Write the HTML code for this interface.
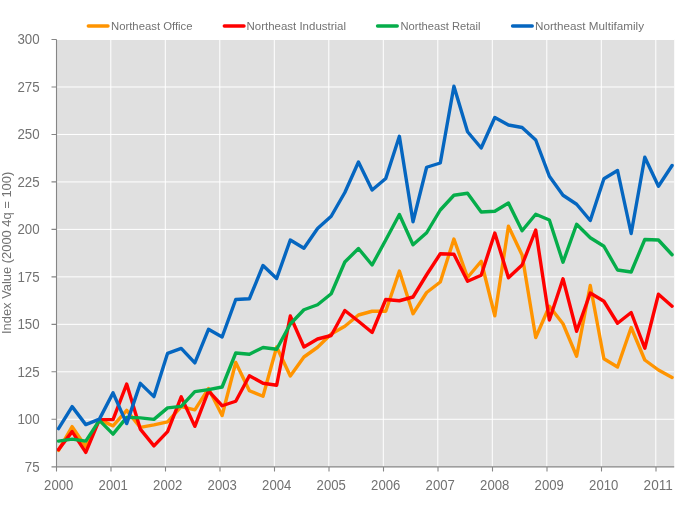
<!DOCTYPE html>
<html><head><meta charset="utf-8"><title>Northeast Index</title>
<style>
html,body{margin:0;padding:0;background:#fff;}
body{width:700px;height:506px;overflow:hidden;font-family:"Liberation Sans",sans-serif;}
svg{display:block;will-change:transform;}
text{font-family:"Liberation Sans",sans-serif;fill:#727272;}
.ax{font-size:13.8px;}
.lg{font-size:11.4px;}
.ln{fill:none;stroke-width:3.4;stroke-linejoin:round;stroke-linecap:round;}
</style></head><body>
<svg width="700" height="506" viewBox="0 0 700 506">
<rect x="0" y="0" width="700" height="506" fill="#ffffff"/>
<rect x="56.5" y="39.5" width="617.70" height="427.25" fill="#e0e0e0"/>
<path d="M56.5,39.50H674.2M56.5,86.97H674.2M56.5,134.44H674.2M56.5,181.92H674.2M56.5,229.39H674.2M56.5,276.86H674.2M56.5,324.33H674.2M56.5,371.81H674.2M56.5,419.28H674.2M110.80,39.5V466.75M165.30,39.5V466.75M219.80,39.5V466.75M274.30,39.5V466.75M328.80,39.5V466.75M383.30,39.5V466.75M437.80,39.5V466.75M492.30,39.5V466.75M546.80,39.5V466.75M601.30,39.5V466.75M655.80,39.5V466.75" stroke="#ffffff" stroke-width="1" fill="none"/>
<path d="M56.5,39.5V466.9M51.5,466.9H674.2M51.5,39.50H56.5M51.5,86.97H56.5M51.5,134.44H56.5M51.5,181.92H56.5M51.5,229.39H56.5M51.5,276.86H56.5M51.5,324.33H56.5M51.5,371.81H56.5M51.5,419.28H56.5M56.50,466.9V471.5M111.00,466.9V471.5M165.50,466.9V471.5M220.00,466.9V471.5M274.50,466.9V471.5M329.00,466.9V471.5M383.50,466.9V471.5M438.00,466.9V471.5M492.50,466.9V471.5M547.00,466.9V471.5M601.50,466.9V471.5M656.00,466.9V471.5" stroke="#868686" stroke-width="1.1" fill="none"/>
<text class="ax" x="17.40" y="44.35" textLength="22.20" lengthAdjust="spacingAndGlyphs">300</text>
<text class="ax" x="17.40" y="91.82" textLength="22.20" lengthAdjust="spacingAndGlyphs">275</text>
<text class="ax" x="17.40" y="139.29" textLength="22.20" lengthAdjust="spacingAndGlyphs">250</text>
<text class="ax" x="17.40" y="186.77" textLength="22.20" lengthAdjust="spacingAndGlyphs">225</text>
<text class="ax" x="17.40" y="234.24" textLength="22.20" lengthAdjust="spacingAndGlyphs">200</text>
<text class="ax" x="17.40" y="281.71" textLength="22.20" lengthAdjust="spacingAndGlyphs">175</text>
<text class="ax" x="17.40" y="329.18" textLength="22.20" lengthAdjust="spacingAndGlyphs">150</text>
<text class="ax" x="17.40" y="376.66" textLength="22.20" lengthAdjust="spacingAndGlyphs">125</text>
<text class="ax" x="17.40" y="424.13" textLength="22.20" lengthAdjust="spacingAndGlyphs">100</text>
<text class="ax" x="24.80" y="471.60" textLength="14.80" lengthAdjust="spacingAndGlyphs">75</text>
<text class="ax" x="44.10" y="490.0" textLength="29.20" lengthAdjust="spacingAndGlyphs">2000</text>
<text class="ax" x="98.60" y="490.0" textLength="29.20" lengthAdjust="spacingAndGlyphs">2001</text>
<text class="ax" x="153.10" y="490.0" textLength="29.20" lengthAdjust="spacingAndGlyphs">2002</text>
<text class="ax" x="207.60" y="490.0" textLength="29.20" lengthAdjust="spacingAndGlyphs">2003</text>
<text class="ax" x="262.10" y="490.0" textLength="29.20" lengthAdjust="spacingAndGlyphs">2004</text>
<text class="ax" x="316.60" y="490.0" textLength="29.20" lengthAdjust="spacingAndGlyphs">2005</text>
<text class="ax" x="371.10" y="490.0" textLength="29.20" lengthAdjust="spacingAndGlyphs">2006</text>
<text class="ax" x="425.60" y="490.0" textLength="29.20" lengthAdjust="spacingAndGlyphs">2007</text>
<text class="ax" x="480.10" y="490.0" textLength="29.20" lengthAdjust="spacingAndGlyphs">2008</text>
<text class="ax" x="534.60" y="490.0" textLength="29.20" lengthAdjust="spacingAndGlyphs">2009</text>
<text class="ax" x="589.10" y="490.0" textLength="29.20" lengthAdjust="spacingAndGlyphs">2010</text>
<text class="ax" x="643.60" y="490.0" textLength="29.20" lengthAdjust="spacingAndGlyphs">2011</text>
<text class="ax" transform="translate(11.1,334.0) rotate(-90)" textLength="162.2" lengthAdjust="spacingAndGlyphs" style="font-size:12px">Index Value (2000 4q = 100)</text>
<clipPath id="pc"><rect x="57.1" y="39" width="618" height="428"/></clipPath><g clip-path="url(#pc)">
<polyline class="ln" stroke="#ff9400" points="58.50,450.35 72.14,426.60 85.77,446.60 99.41,419.60 113.04,425.85 126.67,410.35 140.31,427.35 153.94,424.85 167.58,421.85 181.22,406.60 194.85,409.85 208.48,388.60 222.12,415.50 235.75,362.50 249.39,390.75 263.02,396.25 276.66,347.00 290.29,376.00 303.93,357.00 317.56,347.25 331.20,334.00 344.83,326.25 358.47,315.00 372.11,311.25 385.74,311.25 399.38,271.00 413.01,313.75 426.64,292.50 440.28,282.00 453.92,239.00 467.55,277.50 481.19,261.25 494.82,315.75 508.45,226.25 522.09,255.00 535.72,337.50 549.36,306.25 563.00,323.75 576.63,356.25 590.26,285.50 603.90,358.75 617.53,367.00 631.17,327.50 644.80,360.00 658.44,370.00 672.08,377.50"/>
<polyline class="ln" stroke="#ff0000" points="58.50,449.60 72.14,431.60 85.77,452.35 99.41,419.60 113.04,419.60 126.67,384.10 140.31,429.10 153.94,445.85 167.58,431.60 181.22,396.85 194.85,426.35 208.48,390.85 222.12,405.75 235.75,401.25 249.39,375.75 263.02,383.25 276.66,385.25 290.29,316.00 303.93,347.00 317.56,339.00 331.20,335.50 344.83,310.50 358.47,321.25 372.11,332.50 385.74,299.50 399.38,300.75 413.01,297.00 426.64,274.75 440.28,253.75 453.92,254.25 467.55,281.25 481.19,275.25 494.82,233.00 508.45,277.75 522.09,265.00 535.72,230.00 549.36,320.00 563.00,278.75 576.63,331.25 590.26,293.00 603.90,301.25 617.53,323.25 631.17,312.50 644.80,348.25 658.44,294.25 672.08,306.25"/>
<polyline class="ln" stroke="#05ad4a" points="58.50,441.10 72.14,439.10 85.77,441.10 99.41,420.35 113.04,434.10 126.67,417.35 140.31,417.85 153.94,419.35 167.58,407.85 181.22,406.35 194.85,391.60 208.48,389.60 222.12,387.00 235.75,353.00 249.39,354.25 263.02,347.50 276.66,349.25 290.29,324.00 303.93,309.75 317.56,304.75 331.20,293.75 344.83,262.00 358.47,248.50 372.11,265.00 385.74,240.00 399.38,214.50 413.01,244.75 426.64,232.75 440.28,210.00 453.92,195.25 467.55,193.25 481.19,212.00 494.82,211.25 508.45,203.00 522.09,230.75 535.72,214.25 549.36,220.00 563.00,262.25 576.63,224.25 590.26,237.75 603.90,246.25 617.53,270.00 631.17,272.00 644.80,239.50 658.44,240.00 672.08,254.75"/>
<polyline class="ln" stroke="#0566c0" points="58.50,428.60 72.14,406.60 85.77,424.60 99.41,419.10 113.04,392.85 126.67,423.60 140.31,383.35 153.94,396.60 167.58,353.35 181.22,348.35 194.85,362.85 208.48,329.35 222.12,337.00 235.75,299.50 249.39,298.75 263.02,265.50 276.66,278.50 290.29,240.00 303.93,248.25 317.56,228.50 331.20,216.25 344.83,192.50 358.47,162.00 372.11,190.00 385.74,178.50 399.38,136.25 413.01,221.75 426.64,167.25 440.28,163.00 453.92,86.20 467.55,131.75 481.19,148.00 494.82,117.50 508.45,125.00 522.09,127.50 535.72,140.00 549.36,176.25 563.00,195.25 576.63,204.25 590.26,220.50 603.90,178.75 617.53,170.50 631.17,233.50 644.80,157.20 658.44,186.25 672.08,165.50"/>
</g>
<line x1="88.3" y1="26.0" x2="108.0" y2="26.0" stroke="#ff9400" stroke-width="3.4" stroke-linecap="round"/>
<text class="lg" x="111" y="29.6" textLength="81.5" lengthAdjust="spacingAndGlyphs">Northeast Office</text>
<line x1="224.3" y1="26.0" x2="244.0" y2="26.0" stroke="#ff0000" stroke-width="3.4" stroke-linecap="round"/>
<text class="lg" x="246.5" y="29.6" textLength="99.5" lengthAdjust="spacingAndGlyphs">Northeast Industrial</text>
<line x1="377.55" y1="26.0" x2="397.25" y2="26.0" stroke="#05ad4a" stroke-width="3.4" stroke-linecap="round"/>
<text class="lg" x="400.5" y="29.6" textLength="80" lengthAdjust="spacingAndGlyphs">Northeast Retail</text>
<line x1="512.55" y1="26.0" x2="532.25" y2="26.0" stroke="#0566c0" stroke-width="3.4" stroke-linecap="round"/>
<text class="lg" x="535" y="29.6" textLength="109" lengthAdjust="spacingAndGlyphs">Northeast Multifamily</text>
</svg></body></html>
